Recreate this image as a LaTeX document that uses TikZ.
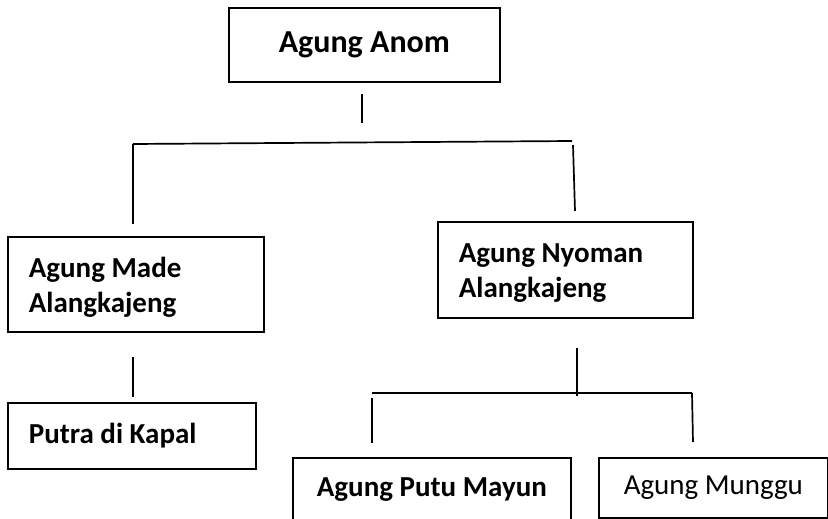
\documentclass[tikz,border=0pt]{standalone}
\usepackage{fontspec}
\setmainfont{Carlito}
\begin{document}
\begin{tikzpicture}[x=1pt,y=-1pt,
  box/.style={draw, line width=1.7pt, rectangle, anchor=north west, inner ysep=0pt, inner xsep=0pt},
  conn/.style={line width=1.7pt},
  bigfont/.style={font=\fontsize{32}{38}\selectfont\bfseries},
  midfont/.style={font=\fontsize{29}{35}\selectfont\bfseries},
  regfont/.style={font=\fontsize{29}{35}\selectfont},
]
\useasboundingbox (0,0) rectangle (828,519);
\clip (0,0) rectangle (828,519);

% boxes
\node[box, bigfont, minimum width=271pt, minimum height=74pt] (anom) at (228,7) {Agung Anom};
\node[box, midfont, text width=214pt, inner xsep=21pt, align=flush left, minimum height=95pt] (made) at (7,236)
  {\rule{0pt}{26pt}Agung Made\\Alangkajeng};
\node[box, midfont, text width=213pt, inner xsep=21pt, align=flush left, minimum height=96pt] (nyoman) at (437,221)
  {\rule{0pt}{26pt}Agung Nyoman\\Alangkajeng};
\node[box, midfont, text width=206pt, inner xsep=21pt, align=flush left, minimum height=66pt] (putra) at (7,402)
  {Putra di Kapal};
\node[box, midfont, minimum width=278pt, minimum height=63.4pt] (putu) at (292,457) {Agung Putu Mayun};
\node[box, regfont, minimum width=229pt, minimum height=60pt] (munggu) at (598,457) {Agung Munggu};

% connector points
\coordinate (a1) at (362,94);
\coordinate (a2) at (362,123);
\coordinate (h1l) at (133,144);
\coordinate (h1r) at (572,141);
\coordinate (ml) at (133,224);
\coordinate (nt) at (573,145);
\coordinate (nb) at (575,211);
\coordinate (p1) at (133,357);
\coordinate (p2) at (133,397);
\coordinate (n1) at (577,348);
\coordinate (n2) at (577,396);
\coordinate (h2l) at (372,393);
\coordinate (h2r) at (692,393);
\coordinate (l1) at (372,398);
\coordinate (l2) at (372,443);
\coordinate (r2) at (693,442);

% connectors
\draw[conn] (a1) -- (a2);
\draw[conn] (h1l) -- (h1r);
\draw[conn] (h1l) -- (ml);
\draw[conn] (nt) -- (nb);
\draw[conn] (p1) -- (p2);
\draw[conn] (n1) -- (n2);
\draw[conn] (h2l) -- (h2r);
\draw[conn] (l1) -- (l2);
\draw[conn] (h2r) -- (r2);
\end{tikzpicture}
\end{document}
